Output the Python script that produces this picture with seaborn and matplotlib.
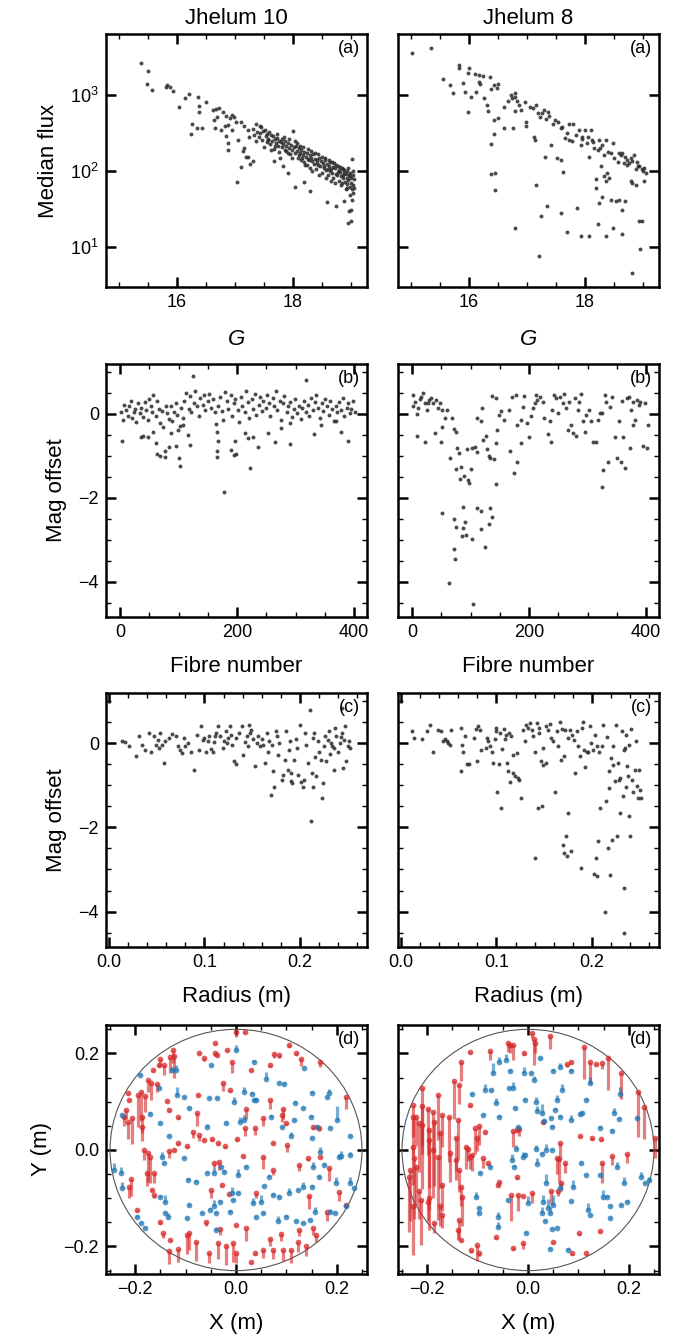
import numpy as np
import pandas as pd
import matplotlib
matplotlib.use("Agg")
import matplotlib.pyplot as plt
from matplotlib.ticker import MultipleLocator, LogLocator, NullLocator
from matplotlib.patches import Circle
import seaborn as sns

# ---------------- data ----------------
titles = ["Jhelum 10", "Jhelum 8"]

# (a) G magnitude vs median flux
a10_G_flux = [
    (15.38, 2630), (15.51, 2040), (15.48, 1380), (15.57, 1160), (15.81, 1260), (15.84, 1350),
    (15.88, 1260), (15.93, 1120), (16.04, 690), (16.14, 910), (16.21, 1020), (16.37, 930),
    (16.39, 725), (16.39, 600), (16.50, 795), (16.26, 417), (16.24, 309), (16.35, 372),
    (16.43, 372), (16.62, 631), (16.67, 661), (16.73, 676), (16.65, 468), (16.70, 513),
    (16.79, 589), (16.85, 525), (16.91, 490), (16.96, 550), (16.99, 513), (17.02, 447),
    (16.83, 389), (16.88, 407), (16.66, 372), (16.76, 347), (16.85, 288), (16.88, 234),
    (16.88, 191), (16.96, 347), (17.05, 257), (17.11, 447), (17.16, 389), (17.22, 347),
    (17.25, 282), (17.16, 200), (17.15, 182), (17.22, 151), (17.31, 135), (17.04, 72),
    (17.11, 112), (17.20, 155), (17.26, 123),
    (17.32, 360), (17.34, 300), (17.36, 245), (17.38, 330), (17.41, 280), (17.43, 395),
    (17.44, 315), (17.47, 255), (17.49, 340), (17.51, 205), (17.53, 290), (17.55, 240),
    (17.56, 310), (17.58, 265), (17.61, 225), (17.62, 300), (17.64, 250), (17.66, 285),
    (17.67, 195), (17.69, 260), (17.71, 235), (17.72, 275), (17.74, 215), (17.76, 250),
    (17.77, 180), (17.79, 240), (17.81, 205), (17.82, 260), (17.84, 225), (17.86, 190),
    (17.87, 245), (17.89, 210), (17.91, 175), (17.92, 230), (17.94, 200), (17.96, 165),
    (17.97, 220), (17.99, 190), (18.01, 340), (18.02, 205), (18.04, 170), (18.05, 215),
    (18.07, 185), (18.09, 150), (18.10, 200), (18.12, 175), (18.14, 140), (18.15, 190),
    (18.17, 160), (18.19, 130), (18.20, 180), (18.22, 155), (18.24, 120), (18.25, 170),
    (18.27, 145), (18.29, 160), (18.30, 110), (18.32, 150), (18.34, 135), (18.35, 165),
    (18.37, 125), (18.39, 145), (18.40, 105), (18.42, 140), (18.44, 120), (18.45, 150),
    (18.47, 115), (18.49, 135), (18.50, 95), (18.52, 128), (18.54, 110), (18.55, 140),
    (18.57, 102), (18.59, 125), (18.60, 88), (18.62, 118), (18.64, 100), (18.65, 130),
    (18.67, 95), (18.69, 112), (18.70, 80), (18.72, 108), (18.74, 92), (18.75, 120),
    (18.77, 88), (18.79, 102), (18.80, 75), (18.82, 98), (18.84, 86), (18.85, 110),
    (18.87, 82), (18.88, 95), (18.90, 72), (18.91, 92), (18.93, 80), (18.94, 100),
    (18.96, 76), (18.97, 88), (18.98, 62), (18.99, 95), (19.00, 70), (19.01, 82),
    (19.02, 58), (19.03, 90), (19.04, 66), (19.05, 78), (18.98, 48), (19.02, 42),
    (18.97, 30), (19.01, 22), (17.68, 135), (17.83, 115), (17.91, 93), (18.04, 62),
    (18.20, 72), (18.29, 54), (18.59, 39), (18.75, 35), (18.88, 40), (18.96, 21),
    (19.00, 31), (19.02, 145), (17.57, 257), (17.70, 210), (18.10, 160), (18.60, 105),
    (18.85, 70), (18.93, 60), (19.04, 52),
    (17.37, 420), (17.46, 380), (17.52, 350), (17.59, 330), (17.63, 190), (17.73, 310),
    (17.78, 150), (17.85, 280), (17.93, 265), (17.98, 150), (18.03, 250), (18.08, 230),
    (18.13, 215), (18.18, 205), (18.21, 120), (18.26, 195), (18.31, 185), (18.33, 100),
    (18.38, 175), (18.43, 165), (18.46, 90), (18.51, 155), (18.56, 148), (18.58, 82),
    (18.63, 140), (18.66, 75), (18.68, 130), (18.71, 128), (18.73, 70), (18.78, 118),
    (18.81, 112), (18.83, 65), (18.86, 105), (18.89, 102), (18.92, 58), (18.95, 110),
    (18.99, 85), (19.03, 100), (19.05, 60), (18.94, 68), (18.86, 90), (18.78, 97),
    (18.66, 105), (18.53, 118), (18.41, 128), (18.28, 138), (18.16, 150), (17.88, 185),
]
a8_G_flux = [
    (15.02, 3540), (15.35, 4170), (15.56, 1620), (15.68, 1330), (15.72, 1050), (15.83, 2450),
    (15.84, 2240), (15.90, 1420), (15.93, 1100), (15.98, 590), (16.00, 2240), (15.98, 1920),
    (16.03, 950), (16.11, 1900), (16.17, 1480), (16.18, 1820), (16.24, 1780), (16.13, 1100),
    (16.19, 1410), (16.27, 910), (16.32, 740), (16.36, 1740), (16.38, 1180), (16.34, 620),
    (16.44, 470), (16.51, 490), (16.43, 1350), (16.48, 1230), (16.50, 1380), (16.38, 229),
    (16.44, 309), (16.38, 91), (16.46, 93), (16.45, 56), (16.60, 363), (16.61, 700),
    (16.67, 820), (16.73, 1000), (16.75, 905), (16.79, 1050), (16.80, 950), (16.84, 820),
    (16.76, 363), (16.79, 610), (16.87, 740), (16.90, 630), (16.79, 18), (16.97, 795),
    (16.99, 447), (16.99, 390), (17.10, 670), (17.12, 282), (17.15, 257), (17.16, 740),
    (17.19, 575), (17.16, 66), (17.21, 7.6), (17.24, 26), (17.27, 575), (17.30, 630),
    (17.36, 600), (17.39, 525), (17.31, 155), (17.35, 35), (17.42, 219), (17.48, 470),
    (17.53, 447), (17.59, 363), (17.52, 148), (17.59, 138), (17.63, 96), (17.59, 28),
    (17.70, 16), (17.66, 270), (17.73, 257), (17.78, 245), (17.73, 417), (17.79, 417),
    (17.87, 33), (17.90, 347), (17.93, 219), (17.96, 282), (18.01, 347), (18.03, 234),
    (17.93, 14), (18.07, 14), (18.07, 155), (18.10, 347), (18.13, 257), (18.16, 200),
    (18.19, 78), (18.20, 60), (18.22, 20), (18.25, 257), (18.27, 200), (18.30, 219),
    (18.33, 162), (18.36, 257), (18.25, 38), (18.30, 45), (18.36, 14), (18.28, 115),
    (18.33, 85), (18.36, 73), (18.39, 93), (18.42, 81), (18.45, 174), (18.48, 234),
    (18.45, 42), (18.48, 18), (18.53, 40), (18.59, 42), (18.59, 174), (18.62, 163),
    (18.65, 174), (18.68, 126), (18.70, 155), (18.73, 141), (18.76, 126), (18.82, 135),
    (18.85, 163), (18.88, 105), (18.91, 115), (18.93, 115), (18.99, 105), (19.02, 110),
    (18.65, 31), (18.65, 15), (18.70, 40), (18.79, 73), (18.82, 69), (18.88, 66),
    (18.93, 22), (18.96, 9.6), (18.99, 22), (19.02, 73), (18.82, 4.6), (17.05, 700),
    (17.22, 520), (17.33, 480), (17.45, 420), (17.60, 380), (17.70, 320), (17.85, 300),
    (17.95, 260), (18.05, 280), (18.15, 240), (18.22, 190), (18.40, 180), (18.50, 150),
    (18.58, 130), (18.72, 120), (18.80, 150), (18.90, 130), (19.00, 100), (19.05, 95),
]

# (b) fibre number vs magnitude offset
b10_fibre_off = [
    (2, 0.05), (5, -0.15), (7, 0.22), (10, 0.10), (13, -0.05), (15, 0.18), (19, 0.30),
    (21, -0.10), (23, 0.05), (26, 0.12), (28, -0.20), (31, 0.25), (34, 0.02), (36, 0.15),
    (39, -0.08), (42, 0.28), (44, 0.10), (47, -0.15), (50, 0.35), (53, 0.20), (55, 0.05),
    (57, 0.45), (61, -0.05), (63, 0.30), (66, 0.12), (69, -0.22), (71, 0.08), (74, -0.30),
    (78, 0.18), (80, 0.02), (83, -0.12), (87, 0.20), (89, -0.18), (93, 0.05), (95, 0.25),
    (98, -0.02), (102, -0.28), (104, 0.15), (108, -0.10), (110, 0.30), (113, 0.50),
    (117, 0.12), (119, 0.42), (122, 0.05), (126, 0.25), (128, 0.55), (131, 0.18),
    (135, -0.05), (137, 0.38), (141, 0.22), (143, 0.45), (146, 0.10), (150, 0.30),
    (152, 0.48), (156, 0.15), (158, 0.35), (162, 0.05), (164, -0.25), (168, 0.20),
    (170, 0.40), (174, 0.08), (176, -0.15), (179, 0.52), (183, 0.30), (185, 0.12),
    (189, 0.45), (191, -0.05), (195, 0.25), (197, 0.35), (201, 0.10), (203, -0.20),
    (207, 0.40), (209, 0.18), (213, 0.05), (215, 0.55), (219, 0.28), (221, -0.10),
    (225, 0.35), (227, 0.12), (231, 0.48), (233, -0.02), (237, 0.22), (239, 0.40),
    (243, 0.08), (245, 0.30), (249, 0.15), (251, 0.45), (255, 0.25), (257, -0.05),
    (261, 0.38), (263, 0.20), (267, 0.55), (269, 0.10), (273, 0.32), (275, -0.15),
    (279, 0.25), (281, 0.42), (285, 0.05), (287, 0.18), (291, 0.28), (293, -0.08),
    (297, 0.12), (299, 0.35), (303, 0.02), (305, 0.20), (309, -0.12), (311, 0.15),
    (315, 0.30), (317, 0.05), (321, 0.22), (323, -0.05), (327, 0.38), (329, 0.10),
    (333, 0.28), (335, 0.45), (339, 0.15), (341, -0.10), (345, 0.25), (347, 0.08),
    (351, 0.35), (353, 0.18), (357, -0.02), (359, 0.30), (363, 0.12), (365, -0.18),
    (369, 0.20), (371, 0.05), (375, 0.28), (377, 0.10), (381, 0.38), (383, -0.05),
    (387, 0.15), (389, 0.25), (393, 0.02), (395, 0.12), (398, 0.30), (401, 0.05),
    (124, 0.91), (318, 0.80), (177, -1.86), (222, -1.30), (103, -1.23), (101, -1.06),
    (3, -0.65), (64, -0.96), (68, -1.00), (76, -1.03), (77, -0.88), (84, -0.80),
    (96, -0.76), (119, -0.74), (167, -0.65), (165, -0.88), (166, -1.03), (196, -0.64),
    (190, -0.86), (194, -0.98), (198, -0.95), (235, -0.80), (264, -0.66), (290, -0.72),
    (331, -0.49), (389, -0.64), (35, -0.54), (39, -0.52), (47, -0.56), (56, -0.42),
    (62, -0.70), (87, -0.46), (99, -0.38), (107, -0.26), (116, -0.50), (165, -0.42),
    (213, -0.46), (218, -0.58), (227, -0.54), (252, -0.46), (275, -0.34), (290, -0.22),
    (344, -0.26), (369, -0.18), (377, -0.42),
]
b8_fibre_off = [
    (2, 0.45), (1, 0.19), (5, 0.29), (8, 0.0), (10, 0.14), (9, -0.53), (13, 0.35),
    (16, 0.40), (19, 0.51), (22, 0.25), (22, -0.66), (25, 0.10), (28, 0.27), (29, 0.33),
    (33, 0.37), (36, 0.25), (39, -0.45), (41, 0.33), (45, 0.14), (47, 0.25), (49, -0.66),
    (51, 0.10), (52, -0.30), (56, -0.10), (59, 0.10), (51, -2.35), (64, -4.02), (65, -1.06),
    (69, -0.10), (71, -0.37), (75, -0.44), (76, -0.82), (81, -0.94), (75, -1.31),
    (83, -1.27), (82, -1.54), (89, -1.48), (97, -1.65), (95, -1.58), (101, -1.32),
    (94, -0.84), (102, -0.82), (108, -0.80), (111, -0.10), (111, -0.90), (117, -0.18),
    (120, 0.14), (122, -0.62), (127, -0.53), (128, -0.84), (131, -1.00), (134, -1.06),
    (140, -1.08), (143, -0.70), (144, -1.67), (137, 0.43), (143, 0.37), (145, -0.38),
    (148, -0.02), (152, 0.06), (157, -0.14), (166, 0.10), (168, -0.88), (174, -1.40),
    (180, -1.14), (186, -0.70), (171, 0.41), (177, 0.45), (180, -0.26), (186, -0.14),
    (189, 0.17), (191, 0.43), (197, -0.22), (199, -0.56), (203, -0.06), (206, 0.14),
    (210, 0.25), (212, 0.45), (214, 0.33), (219, 0.41), (223, 0.29), (226, -0.10),
    (232, -0.49), (235, -0.18), (237, -0.66), (240, 0.10), (243, 0.45), (246, 0.37),
    (249, 0.02), (252, 0.40), (258, 0.25), (260, 0.48), (263, 0.14), (266, -0.38),
    (269, 0.29), (272, -0.26), (275, -0.46), (278, 0.37), (281, -0.53), (283, 0.10),
    (286, 0.29), (289, 0.48), (292, -0.18), (295, -0.42), (298, -0.02), (303, 0.10),
    (306, -0.18), (309, -0.66), (315, -0.66), (318, -0.14), (321, 0.02), (324, -1.73),
    (325, 0.02), (327, -1.34), (329, 0.45), (332, 0.29), (335, -1.14), (338, 0.17),
    (341, 0.41), (347, -0.54), (350, -1.06), (354, -0.18), (357, -1.14), (359, 0.32),
    (361, -0.54), (364, -1.30), (367, 0.37), (370, 0.41), (373, -0.82), (374, 0.10),
    (377, -0.26), (378, 0.29), (381, -0.14), (384, 0.33), (387, 0.21), (390, 0.29),
    (394, -0.76), (398, 0.25), (401, -0.82), (403, -0.26),
    (71, -2.51), (75, -2.70), (87, -2.71), (87, -2.23), (90, -2.57), (72, -3.21),
    (74, -3.46), (85, -2.90), (92, -2.89), (102, -2.98), (111, -2.24), (117, -2.31),
    (117, -2.74), (125, -3.18), (131, -2.63), (134, -2.25), (136, -2.45), (105, -4.52),
]

# (c) radius vs magnitude offset
c10_rad_off = [
    (0.014, 0.04), (0.017, 0.02), (0.021, -0.06), (0.028, -0.30), (0.032, 0.16),
    (0.035, -0.04), (0.038, -0.16), (0.042, 0.24), (0.044, -0.20), (0.047, 0.17),
    (0.049, -0.04), (0.051, 0.08), (0.052, -0.12), (0.054, 0.24), (0.056, -0.04),
    (0.058, -0.46), (0.059, 0.04), (0.063, 0.12), (0.066, 0.22), (0.070, 0.16),
    (0.072, -0.08), (0.074, -0.16), (0.076, -0.24), (0.079, 0.12), (0.080, -0.08),
    (0.083, 0.00), (0.086, -0.20), (0.089, -0.63), (0.092, 0.20), (0.094, -0.16),
    (0.096, 0.41), (0.098, 0.08), (0.100, 0.12), (0.102, -0.20), (0.104, 0.06),
    (0.105, 0.16), (0.107, -0.14), (0.109, -0.20), (0.111, 0.16), (0.112, 0.24),
    (0.114, 0.40), (0.116, 0.16), (0.119, -0.12), (0.120, 0.04), (0.122, 0.28),
    (0.124, 0.00), (0.125, 0.12), (0.127, 0.40), (0.129, -0.04), (0.131, -0.42),
    (0.133, -0.49), (0.133, 0.12), (0.136, 0.24), (0.139, 0.40), (0.140, -0.28),
    (0.142, 0.02), (0.144, 0.16), (0.147, 0.43), (0.148, 0.24), (0.149, 0.32),
    (0.151, 0.09), (0.153, -0.55), (0.155, 0.00), (0.156, 0.16), (0.158, -0.08),
    (0.161, -0.04), (0.163, -0.47), (0.165, 0.24), (0.166, -0.20), (0.168, 0.04),
    (0.170, -1.23), (0.171, -0.04), (0.172, -0.67), (0.173, -1.04), (0.175, 0.28),
    (0.177, -0.28), (0.178, 0.00), (0.181, -0.87), (0.182, -0.75), (0.184, -0.40),
    (0.185, 0.28), (0.187, -0.63), (0.188, -0.16), (0.189, 0.04), (0.190, -0.71),
    (0.191, -0.91), (0.192, -0.95), (0.194, -0.40), (0.197, -0.12), (0.198, -0.75),
    (0.200, 0.43), (0.201, -0.93), (0.203, -1.03), (0.204, -0.87), (0.205, 0.24),
    (0.206, -0.04), (0.208, -0.47), (0.210, 0.79), (0.211, -1.86), (0.212, -0.71),
    (0.213, -1.03), (0.215, 0.24), (0.216, -0.32), (0.217, -0.79), (0.219, 0.04),
    (0.220, -0.20), (0.222, -0.40), (0.223, -1.30), (0.224, -0.95), (0.225, -0.08),
    (0.227, -0.43), (0.229, 0.08), (0.230, 0.28), (0.231, -0.25), (0.232, 0.00),
    (0.233, -0.08), (0.235, -0.63), (0.237, 0.36), (0.238, 0.16), (0.240, -0.20),
    (0.242, 0.00), (0.244, 0.24), (0.245, -0.59), (0.246, 0.08), (0.247, 0.40),
    (0.248, -0.43), (0.250, -0.08), (0.251, 0.04), (0.252, -0.12), (0.244, 0.83),
    (0.110, 0.02), (0.128, 0.20), (0.146, -0.06), (0.160, 0.10), (0.176, 0.18),
    (0.196, 0.10), (0.214, 0.12), (0.226, 0.18), (0.236, -0.12), (0.243, 0.14),
]
c8_rad_off = [
    (0.012, 0.28), (0.014, 0.12), (0.022, 0.09), (0.027, 0.28), (0.030, 0.43),
    (0.034, -0.22), (0.039, 0.30), (0.042, 0.28), (0.044, 0.04), (0.046, 0.09),
    (0.048, 0.06), (0.049, 0.00), (0.051, -0.04), (0.052, 0.30), (0.063, -0.65),
    (0.063, 0.36), (0.064, -0.04), (0.065, -0.20), (0.067, 0.16), (0.069, -0.49),
    (0.071, -0.49), (0.077, 0.12), (0.079, 0.33), (0.080, -0.43), (0.081, 0.40),
    (0.083, 0.30), (0.084, -0.17), (0.089, -0.12), (0.090, 0.12), (0.091, 0.06),
    (0.093, -0.08), (0.095, -0.22), (0.096, -0.47), (0.098, 0.09), (0.099, 0.28),
    (0.100, 0.36), (0.101, -1.15), (0.103, -0.49), (0.104, 0.24), (0.105, -1.54),
    (0.106, -0.14), (0.108, 0.33), (0.109, 0.09), (0.110, 0.20), (0.111, -0.46),
    (0.112, -0.67), (0.113, 0.24), (0.114, -0.93), (0.115, 0.16), (0.117, -0.71),
    (0.117, -0.28), (0.119, -0.79), (0.121, -0.24), (0.123, -0.83), (0.124, -0.87),
    (0.126, -1.30), (0.128, 0.32), (0.130, 0.04), (0.131, 0.43), (0.133, 0.36),
    (0.135, 0.47), (0.137, 0.32), (0.138, 0.16), (0.140, -0.20), (0.140, -2.73),
    (0.142, 0.47), (0.143, -1.53), (0.144, 0.36), (0.145, 0.24), (0.147, -0.43),
    (0.148, -1.49), (0.149, -0.12), (0.149, -0.51), (0.152, 0.40), (0.152, -0.46),
    (0.154, 0.32), (0.156, 0.46), (0.157, 0.12), (0.159, 0.04), (0.161, -1.17),
    (0.163, 0.28), (0.164, -0.08), (0.166, 0.51), (0.167, -0.40), (0.169, 0.33),
    (0.170, -2.43), (0.171, -2.61), (0.171, -0.30), (0.172, 0.32), (0.173, -2.21),
    (0.174, -2.69), (0.175, -1.66), (0.175, 0.12), (0.177, 0.32), (0.178, -2.55),
    (0.179, 0.20), (0.181, 0.08), (0.182, -0.70), (0.184, 0.28), (0.185, -0.08),
    (0.187, -0.30), (0.188, -2.96), (0.189, 0.36), (0.191, 0.51), (0.192, -0.16),
    (0.193, -0.57), (0.195, -0.20), (0.196, -0.22), (0.198, 0.40), (0.199, 0.00),
    (0.201, -0.17), (0.202, -3.10), (0.203, 0.20), (0.204, -2.73), (0.205, -3.16),
    (0.205, -0.08), (0.206, -2.33), (0.207, -0.20), (0.208, -1.54), (0.210, -0.06),
    (0.211, 0.43), (0.213, -4.02), (0.215, -1.38), (0.216, 0.14), (0.217, -2.49),
    (0.218, -0.65), (0.218, -1.07), (0.219, -3.12), (0.220, -0.36), (0.221, -2.29),
    (0.222, -0.08), (0.222, -0.51), (0.224, -0.91), (0.225, 0.43), (0.226, -2.21),
    (0.227, -0.47), (0.228, -0.87), (0.229, -1.66), (0.229, -0.83), (0.231, 0.28),
    (0.232, -1.26), (0.233, -0.16), (0.233, -4.51), (0.233, -3.44), (0.234, -0.12),
    (0.235, 0.20), (0.236, -1.03), (0.237, -0.54), (0.238, -0.79), (0.239, -1.74),
    (0.239, -0.04), (0.240, -2.21), (0.241, 0.33), (0.242, -0.87), (0.243, -1.15),
    (0.245, -0.63), (0.246, 0.04), (0.247, -1.01), (0.248, -1.30), (0.249, -0.63),
    (0.250, -1.11), (0.251, -1.30),
]

# (d) plate positions (x, y in m) with magnitude offset
d10_red = [
    (0.0, 0.245, -0.17), (0.017, 0.245, -0.05), (-0.041, 0.222, -0.05), (-0.041, 0.202, -0.11),
    (-0.073, 0.202, -0.05), (-0.063, 0.191, -0.11), (-0.018, 0.208, -0.05), (-0.037, 0.197, -0.05),
    (0.105, 0.217, -0.05), (0.120, 0.200, -0.05), (0.076, 0.198, -0.11), (0.086, 0.197, -0.11),
    (0.130, 0.188, -0.22), (0.166, 0.183, -0.17), (0.068, 0.176, -0.05), (-0.008, 0.183, -0.39),
    (0.030, 0.166, -0.05), (-0.126, 0.207, -0.44), (-0.123, 0.195, -0.78), (-0.150, 0.188, -0.22),
    (-0.153, 0.176, -0.05), (-0.165, 0.166, -0.05), (-0.143, 0.176, -0.33), (-0.174, 0.144, -0.39),
    (-0.168, 0.138, -0.56), (-0.156, 0.137, -0.28), (-0.188, 0.121, -1.0), (-0.195, 0.114, -1.1),
    (-0.215, 0.119, -0.05), (-0.213, 0.104, -0.05), (-0.219, 0.083, -0.33), (-0.206, 0.066, -0.9),
    (-0.214, 0.059, -0.6), (-0.223, 0.069, -0.33), (-0.186, 0.069, -0.56), (-0.187, 0.048, -0.5),
    (-0.183, 0.0, -0.33), (-0.174, -0.007, -1.0), (-0.170, -0.014, -0.9), (-0.176, -0.048, -0.44),
    (-0.163, -0.048, -0.33), (-0.208, -0.061, -0.56), (-0.213, -0.076, -0.39), (-0.166, -0.083, -0.05),
    (-0.163, -0.093, -0.11), (-0.197, -0.124, -0.05), (-0.145, -0.173, -0.17), (-0.130, -0.186, -0.05),
    (-0.133, -0.210, -0.44), (-0.115, -0.205, -0.44), (-0.098, -0.176, -0.67), (-0.093, -0.173, -0.56),
    (-0.080, -0.190, -0.67), (-0.053, -0.214, -0.33), (-0.035, -0.192, -0.56), (-0.020, -0.199, -0.67),
    (-0.005, -0.192, -0.67), (0.0, -0.214, -0.33), (0.037, -0.214, -0.05), (0.053, -0.207, -0.28),
    (0.073, -0.207, -0.33), (0.093, -0.207, -0.39), (0.110, -0.207, -0.44), (0.124, -0.191, -0.33),
    (0.158, -0.177, -0.22), (0.153, -0.162, -0.22), (0.126, -0.166, -0.22), (0.068, -0.185, -0.22),
    (0.019, -0.162, -0.44), (0.0, -0.155, -0.05), (-0.031, -0.164, -0.22), (-0.123, 0.0, -0.05),
    (-0.133, -0.003, -0.22), (-0.115, 0.014, -0.05), (-0.098, 0.008, -0.05), (-0.085, 0.038, -0.22),
    (-0.074, 0.031, -0.22), (-0.063, 0.021, -0.05), (-0.047, 0.022, -0.05), (-0.035, 0.014, -0.05),
    (-0.021, 0.008, -0.05), (-0.043, -0.026, -0.17), (-0.033, -0.024, -0.28), (0.001, 0.022, -0.05),
    (0.013, -0.012, -0.05), (0.018, 0.045, -0.28), (0.038, 0.045, -0.22), (0.053, -0.014, -0.44),
    (0.073, -0.041, -0.17), (0.074, 0.015, -0.05), (0.101, 0.010, -0.22), (0.100, 0.055, -0.05),
    (0.092, 0.072, -0.22), (0.126, -0.031, -0.22), (0.143, -0.017, -0.11), (0.166, -0.014, -0.05),
    (0.185, -0.038, -0.44), (0.153, 0.047, -0.05), (0.165, 0.045, -0.11), (0.205, -0.088, -0.28),
    (0.219, -0.114, -0.05), (0.144, -0.095, -0.44), (0.040, -0.090, -0.17), (-0.027, -0.072, -0.05),
    (-0.050, -0.083, -0.28), (-0.013, -0.091, -0.05), (-0.078, 0.077, -0.44), (0.020, 0.084, -0.33),
    (0.053, 0.066, -0.28), (-0.116, 0.068, -0.05), (-0.133, 0.083, -0.05), (-0.136, 0.102, -0.05),
    (-0.075, 0.114, -0.05), (-0.025, 0.138, -0.28), (-0.011, 0.124, -0.05), (0.068, 0.104, -0.33),
    (0.093, 0.084, -0.33), (0.218, 0.109, -0.39), (0.180, -0.128, -0.33), (-0.180, 0.112, -0.56),
    (-0.131, 0.193, -0.56), (-0.150, -0.150, -0.05), (-0.060, -0.150, -0.11), (0.090, -0.175, -0.22),
    (0.138, -0.200, -0.33), (0.030, -0.232, -0.05),
]
d10_blue = [
    (0.0, 0.208, 0.17), (-0.050, 0.176, 0.05), (0.035, 0.183, 0.05), (0.134, 0.170, 0.05),
    (-0.191, 0.155, 0.05), (0.059, 0.148, 0.22), (-0.128, 0.166, 0.11), (-0.120, 0.166, 0.17),
    (-0.152, 0.128, 0.05), (-0.118, 0.114, 0.28), (-0.103, 0.109, 0.05), (-0.053, 0.107, 0.05),
    (-0.037, 0.107, 0.05), (-0.003, 0.100, 0.17), (0.035, 0.104, 0.05), (0.040, 0.104, 0.05),
    (0.086, 0.138, 0.05), (0.095, 0.137, 0.05), (0.118, 0.098, 0.05), (0.150, 0.119, 0.05),
    (0.185, 0.119, 0.11), (0.181, 0.109, 0.05), (0.201, 0.062, 0.5), (0.132, 0.086, 0.05),
    (-0.093, 0.086, 0.05), (0.015, 0.121, 0.17), (0.032, 0.117, 0.05), (0.015, 0.062, 0.17),
    (0.007, 0.059, 0.17), (-0.020, 0.055, 0.05), (-0.057, 0.048, 0.11), (0.092, 0.047, 0.05),
    (0.070, 0.069, 0.05), (0.116, 0.062, 0.05), (0.148, 0.069, 0.05), (0.160, 0.048, 0.05),
    (0.186, 0.045, 0.05), (0.227, 0.029, 0.05), (0.150, 0.024, 0.05), (-0.151, 0.055, 0.05),
    (-0.133, 0.028, 0.05), (-0.170, 0.075, 0.05), (-0.146, -0.014, 0.17), (-0.143, -0.028, 0.05),
    (-0.103, -0.017, 0.05), (-0.096, -0.062, 0.05), (-0.080, -0.066, 0.05), (-0.057, -0.048, 0.05),
    (-0.043, -0.048, 0.22), (-0.023, -0.045, 0.05), (-0.030, -0.035, 0.05), (0.020, -0.035, 0.05),
    (0.003, -0.052, 0.22), (0.055, -0.075, 0.05), (0.066, -0.055, 0.05), (0.073, -0.093, 0.05),
    (0.086, -0.097, 0.05), (0.105, -0.090, 0.17), (0.124, -0.083, 0.05), (0.133, -0.076, 0.17),
    (0.150, -0.076, 0.05), (0.164, -0.055, 0.05), (0.153, -0.035, 0.17), (0.174, -0.031, 0.05),
    (0.199, -0.069, 0.22), (0.205, -0.014, 0.11), (0.226, -0.069, 0.22), (0.234, -0.079, 0.05),
    (0.209, -0.012, 0.17), (0.226, -0.010, 0.11), (-0.226, 0.072, 0.05), (-0.243, -0.041, 0.22),
    (-0.228, -0.048, 0.22), (-0.226, -0.079, 0.22), (-0.196, -0.138, 0.05), (-0.180, -0.162, 0.05),
    (-0.189, -0.152, 0.05), (-0.150, -0.097, 0.05), (-0.140, -0.131, 0.05), (-0.141, -0.107, 0.22),
    (-0.134, -0.138, 0.11), (-0.098, -0.141, 0.05), (-0.093, -0.114, 0.05), (-0.068, -0.131, 0.05),
    (-0.052, -0.124, 0.05), (-0.043, -0.117, 0.22), (-0.039, -0.131, 0.05), (-0.032, -0.107, 0.05),
    (-0.011, -0.128, 0.05), (-0.005, -0.104, 0.05), (-0.008, -0.090, 0.22), (0.003, -0.090, 0.05),
    (0.033, -0.110, 0.17), (0.039, -0.139, 0.05), (0.049, -0.107, 0.22), (0.053, -0.131, 0.05),
    (0.083, -0.148, 0.17), (0.100, -0.138, 0.05), (0.120, -0.148, 0.05), (0.132, -0.152, 0.05),
    (0.146, -0.145, 0.05), (0.156, -0.128, 0.17), (0.186, -0.128, 0.11), (0.196, -0.131, 0.05),
    (0.218, -0.117, 0.05), (-0.039, -0.166, 0.11), (0.166, -0.005, 0.17), (0.110, 0.030, 0.11),
]
d8_red = [
    (-0.229, 0.093, -1.11), (-0.229, 0.069, -1.33), (-0.223, 0.069, -1.0), (-0.217, 0.055, -1.67),
    (-0.211, 0.128, -2.0), (-0.211, 0.091, -1.67), (-0.211, 0.052, -2.2), (-0.229, 0.007, -1.33),
    (-0.227, -0.017, -2.1), (-0.235, -0.041, -1.78), (-0.223, -0.035, -1.33), (-0.217, -0.084, -1.0),
    (-0.199, 0.084, -1.56), (-0.196, 0.041, -2.0), (-0.197, 0.021, -2.44), (-0.196, -0.100, -1.11),
    (-0.189, 0.079, -1.33), (-0.186, 0.057, -2.2), (-0.178, 0.114, -1.56), (-0.174, 0.035, -1.9),
    (-0.171, 0.072, -1.11), (-0.189, 0.0, -1.67), (-0.178, -0.014, -2.2), (-0.174, -0.117, -0.67),
    (-0.171, -0.072, -0.9), (-0.199, -0.107, -0.67), (-0.186, -0.152, -0.33), (-0.170, -0.135, -0.44),
    (-0.156, 0.069, -1.56), (-0.155, -0.007, -1.0), (-0.146, 0.143, -1.33), (-0.142, 0.024, -1.11),
    (-0.138, 0.062, -1.33), (-0.136, 0.135, -0.67), (-0.142, -0.021, -0.67), (-0.136, -0.041, -0.78),
    (-0.133, -0.076, -0.67), (-0.131, -0.097, -1.0), (-0.136, -0.145, -0.67), (-0.138, -0.166, -0.33),
    (-0.133, -0.186, -0.05), (-0.124, 0.007, -0.78), (-0.120, 0.003, -0.44), (-0.116, -0.014, -0.44),
    (-0.111, -0.010, -0.56), (-0.106, 0.045, -0.9), (-0.098, 0.050, -0.67), (-0.102, 0.024, -0.44),
    (-0.090, -0.017, -0.33), (-0.080, -0.028, -0.05), (-0.086, 0.038, -0.05), (-0.116, 0.093, -0.05),
    (-0.133, 0.183, -0.67), (-0.116, 0.204, -0.05), (-0.076, 0.206, -0.33), (-0.060, -0.072, -0.05),
    (-0.102, -0.197, -0.56), (-0.098, -0.214, -0.11), (-0.113, -0.207, -0.11), (-0.236, -0.055, -1.9),
    (-0.213, -0.104, -1.56), (-0.229, -0.117, -1.67),
    (-0.040, 0.222, -0.33), (-0.035, 0.217, -0.28), (-0.029, 0.217, -0.5), (-0.007, 0.200, -0.05),
    (0.007, 0.242, -0.17), (0.011, 0.231, -0.9), (0.043, 0.236, -0.44), (0.013, 0.221, -0.33),
    (0.086, 0.183, -0.05), (0.078, 0.179, -0.11), (0.111, 0.214, -1.11), (0.124, 0.183, -0.78),
    (0.135, 0.179, -0.05), (0.146, 0.181, -0.22), (0.158, 0.190, -1.11), (0.184, 0.160, -0.9),
    (0.219, 0.121, -1.56), (0.231, 0.090, -1.11), (0.253, 0.024, -0.67), (0.196, -0.008, -0.33),
    (0.166, -0.012, -0.33), (0.146, -0.028, -0.67), (0.145, 0.022, -0.05), (0.128, 0.024, -0.05),
    (0.103, 0.029, -0.05), (-0.030, 0.040, -0.56), (-0.018, 0.043, -0.22), (0.063, 0.015, -0.56),
    (0.073, -0.028, -0.33), (0.062, -0.019, -0.78), (0.057, -0.017, -0.56), (0.066, -0.069, -0.28),
    (0.045, -0.086, -0.44), (0.060, -0.086, -0.17), (-0.020, -0.093, -0.56), (-0.033, -0.093, -0.9),
    (-0.009, -0.095, -0.05), (0.007, -0.090, -0.33), (-0.058, -0.067, -0.05), (-0.022, -0.057, -0.05),
    (0.102, -0.173, -0.05), (0.142, -0.167, -0.05), (-0.064, -0.181, -0.05), (-0.029, -0.204, -0.05),
    (-0.010, -0.193, -0.22), (0.050, -0.190, -0.05), (0.088, -0.214, -0.05), (0.116, -0.213, -0.05),
    (0.030, 0.059, -0.05), (-0.022, 0.041, -0.05),
]
d8_blue = [
    (-0.070, 0.160, 0.33), (-0.057, 0.183, 0.17), (-0.043, 0.186, 0.22), (-0.035, 0.164, 0.05),
    (-0.007, 0.159, 0.22), (0.005, 0.159, 0.05), (0.011, 0.146, 0.11), (0.023, 0.190, 0.05),
    (0.049, 0.164, 0.05), (0.063, 0.173, 0.11), (0.086, 0.164, 0.05), (0.068, 0.124, 0.22),
    (0.124, 0.139, 0.22), (0.116, 0.104, 0.05), (0.182, 0.117, 0.22), (-0.111, 0.116, 0.05),
    (-0.086, 0.124, 0.22), (-0.073, 0.124, 0.05), (-0.037, 0.128, 0.05), (-0.029, 0.128, 0.22),
    (-0.063, 0.098, 0.17), (-0.025, 0.086, 0.05), (-0.005, 0.104, 0.05), (0.015, 0.100, 0.17),
    (0.027, 0.076, 0.33), (0.032, 0.061, 0.05), (0.047, 0.048, 0.05), (0.045, 0.066, 0.05),
    (0.063, 0.069, 0.05), (0.053, 0.083, 0.05), (0.018, 0.081, 0.17), (0.057, 0.104, 0.17),
    (-0.090, 0.072, 0.05), (-0.057, 0.069, 0.05), (-0.019, 0.047, 0.05), (0.085, 0.062, 0.17),
    (0.103, 0.074, 0.05), (0.108, 0.076, 0.05), (0.170, 0.076, 0.17), (0.180, 0.064, 0.05),
    (0.143, 0.046, 0.05), (0.216, 0.066, 0.05), (0.166, 0.040, 0.05), (0.015, 0.003, 0.11),
    (-0.005, -0.010, 0.05), (-0.010, -0.014, 0.17), (-0.023, 0.003, 0.11), (-0.031, -0.021, 0.22),
    (-0.027, -0.035, 0.05), (-0.076, -0.035, 0.05), (-0.096, -0.048, 0.05), (0.017, -0.029, 0.22),
    (0.035, -0.001, 0.22), (0.048, -0.001, 0.05), (0.027, -0.008, 0.05), (0.106, -0.028, 0.05),
    (0.115, -0.052, 0.05), (0.143, -0.052, 0.05), (0.176, -0.035, 0.17), (0.191, -0.069, 0.22),
    (0.224, -0.055, 0.17), (0.233, -0.069, 0.05), (0.241, -0.062, 0.11), (0.035, -0.069, 0.33),
    (0.063, -0.079, 0.22), (0.090, -0.076, 0.22), (0.086, -0.106, 0.05), (0.030, -0.107, 0.22),
    (0.040, -0.121, 0.33), (0.050, -0.114, 0.33), (0.043, -0.131, 0.22), (0.028, -0.131, 0.22),
    (0.033, -0.148, 0.05), (-0.060, -0.139, 0.17), (-0.060, -0.159, 0.17), (-0.098, -0.121, 0.05),
    (-0.098, -0.130, 0.05), (-0.103, -0.097, 0.17), (-0.040, -0.104, 0.05), (0.0, -0.109, 0.22),
    (-0.003, -0.173, 0.05), (0.057, -0.162, 0.05), (0.120, -0.124, 0.22), (0.123, -0.135, 0.05),
    (0.148, -0.097, 0.22), (0.163, -0.117, 0.05), (0.156, -0.097, 0.05), (0.184, -0.114, 0.05),
    (0.196, -0.107, 0.05), (0.163, -0.141, 0.05), (0.047, -0.164, 0.05), (0.043, -0.206, 0.05),
    (0.080, -0.207, 0.05),
]

STICK_SCALE = 0.06  # metres per magnitude of offset
PLATE_RADIUS = 0.25

# ---------------- style ----------------
sns.set_theme(style="white")
plt.rcParams["font.family"] = ["Liberation Sans", "DejaVu Sans"]
plt.rcParams["axes.unicode_minus"] = True
plt.rcParams["text.color"] = "black"
plt.rcParams["axes.labelcolor"] = "black"
plt.rcParams["xtick.color"] = "black"
plt.rcParams["ytick.color"] = "black"

fig = plt.figure(figsize=(6.81, 13.40), dpi=100)
W, H = 681.0, 1340.0
col_left = [106, 398]
col_w = 261
rows = [(34, 287), (364, 617), (693, 947), (1025, 1274)]

axes = []
for r, (t, b) in enumerate(rows):
    row_axes = []
    for c in range(2):
        ax = fig.add_axes([col_left[c] / W, 1 - b / H, col_w / W, (b - t) / H])
        row_axes.append(ax)
    axes.append(row_axes)

PT_COLOR = "#2b2b2b"


def style_axes(ax, xmaj, xmin, ymaj=None, ymin=None):
    for sp in ax.spines.values():
        sp.set_linewidth(1.8)
        sp.set_color("black")
    ax.xaxis.set_major_locator(MultipleLocator(xmaj))
    ax.xaxis.set_minor_locator(MultipleLocator(xmin))
    if ymaj is not None:
        ax.yaxis.set_major_locator(MultipleLocator(ymaj))
        ax.yaxis.set_minor_locator(MultipleLocator(ymin))
    ax.tick_params(which="both", direction="in", top=True, right=True,
                   bottom=True, left=True, colors="black", labelcolor="black")
    ax.tick_params(which="major", length=7, width=1.8, labelsize=13, pad=5)
    ax.tick_params(which="minor", length=3.5, width=1.0)


def panel_letter(ax, s):
    ax.text(0.975, 0.975, s, transform=ax.transAxes, ha="right", va="top",
            fontsize=13, color="black")


datasets_a = [a10_G_flux, a8_G_flux]
datasets_b = [b10_fibre_off, b8_fibre_off]
datasets_c = [c10_rad_off, c8_rad_off]
datasets_d = [(d10_red, d10_blue), (d8_red, d8_blue)]

for c in range(2):
    # (a)
    ax = axes[0][c]
    df = pd.DataFrame(datasets_a[c], columns=["G", "flux"])
    sns.scatterplot(data=df, x="G", y="flux", ax=ax, color=PT_COLOR, s=8,
                    linewidth=0, alpha=0.85)
    ax.set_yscale("log")
    ax.set_xlim(14.78, 19.28)
    ax.set_ylim(3.0, 6300)
    style_axes(ax, 2, 0.5)
    ax.yaxis.set_major_locator(LogLocator(base=10, numticks=10))
    ax.yaxis.set_minor_locator(NullLocator())
    ax.set_title(titles[c], fontsize=16, pad=7, color="black")
    ax.set_xlabel("G", fontsize=16, fontstyle="italic", labelpad=13)
    panel_letter(ax, "(a)")

    # (b)
    ax = axes[1][c]
    df = pd.DataFrame(datasets_b[c], columns=["fibre", "off"])
    sns.scatterplot(data=df, x="fibre", y="off", ax=ax, color=PT_COLOR, s=8,
                    linewidth=0, alpha=0.85)
    ax.set_xlim(-24, 422)
    ax.set_ylim(-4.84, 1.19)
    style_axes(ax, 200, 50, 2, 0.5)
    ax.set_xlabel("Fibre number", fontsize=16, labelpad=11)
    panel_letter(ax, "(b)")

    # (c)
    ax = axes[2][c]
    df = pd.DataFrame(datasets_c[c], columns=["radius", "off"])
    sns.scatterplot(data=df, x="radius", y="off", ax=ax, color=PT_COLOR, s=8,
                    linewidth=0, alpha=0.85)
    ax.set_xlim(-0.003, 0.27)
    ax.set_ylim(-4.84, 1.19)
    style_axes(ax, 0.1, 0.02, 2, 0.5)
    ax.set_xlabel("Radius (m)", fontsize=16, labelpad=11)
    panel_letter(ax, "(c)")

    # (d)
    ax = axes[3][c]
    red, blue = datasets_d[c]
    dfr = pd.DataFrame(red, columns=["x", "y", "off"])
    dfb = pd.DataFrame(blue, columns=["x", "y", "off"])
    ax.add_patch(Circle((0, 0), PLATE_RADIUS, fill=False, edgecolor="#555555",
                        linewidth=0.8, zorder=1))
    for dfx, col in ((dfr, "#d62728"), (dfb, "#1f77b4")):
        ax.vlines(dfx["x"], dfx["y"], dfx["y"] + STICK_SCALE * dfx["off"],
                  colors=col, linewidth=2.3, alpha=0.6, zorder=2)
        sns.scatterplot(data=dfx, x="x", y="y", ax=ax, color=col, s=17,
                        linewidth=0, alpha=0.75, zorder=3)
    ax.set_xlim(-0.258, 0.26)
    ax.set_ylim(-0.257, 0.259)
    style_axes(ax, 0.2, 0.05, 0.2, 0.05)
    ax.set_xlabel("X (m)", fontsize=16, labelpad=11)
    panel_letter(ax, "(d)")

for r in range(4):
    axes[r][1].set_ylabel("")
    axes[r][1].tick_params(labelleft=False)

axes[0][0].set_ylabel("Median flux", fontsize=16, labelpad=8)
axes[1][0].set_ylabel("Mag offset", fontsize=16, labelpad=8)
axes[2][0].set_ylabel("Mag offset", fontsize=16, labelpad=8)
axes[3][0].set_ylabel("Y (m)", fontsize=16, labelpad=8)

fig.savefig("out.png", dpi=100)
